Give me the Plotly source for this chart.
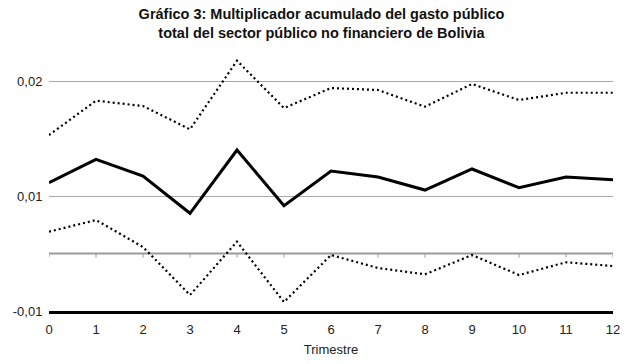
import plotly.graph_objects as go

trimestres = list(range(13))
multiplicador = [0.01116, 0.01319, 0.01174, 0.00850, 0.01400, 0.00916, 0.01217,
                 0.01165, 0.01052, 0.01235, 0.01072, 0.01165, 0.01142]
banda_superior = [0.01530, 0.01829, 0.01783, 0.01580, 0.02177, 0.01765, 0.01939,
                  0.01922, 0.01777, 0.01974, 0.01835, 0.01898, 0.01898]
banda_inferior = [0.00690, 0.00791, 0.00557, 0.00139, 0.00603, 0.00078, 0.00487,
                  0.00374, 0.00319, 0.00487, 0.00313, 0.00424, 0.00391]

y_tickvals = [0.02, 0.01, 0.0]
y_ticktext = ["0,02", "0,01", "-0,01"]
eje_cero = 0.005

fig = go.Figure()
fig.add_trace(go.Scatter(x=trimestres, y=banda_superior, mode="lines",
                         line=dict(color="black", width=2.2, dash="2px,3px"),
                         showlegend=False))
fig.add_trace(go.Scatter(x=trimestres, y=banda_inferior, mode="lines",
                         line=dict(color="black", width=2.2, dash="2px,3px"),
                         showlegend=False))
fig.add_trace(go.Scatter(x=trimestres, y=multiplicador, mode="lines",
                         line=dict(color="black", width=3),
                         showlegend=False))

shapes = [dict(type="line", xref="paper", x0=0, x1=1, yref="y", y0=eje_cero, y1=eje_cero,
               line=dict(color="#9a9a9a", width=2), layer="below")]
for t in trimestres:
    shapes.append(dict(type="line", xref="x", x0=t, x1=t, yref="y",
                       y0=eje_cero, y1=eje_cero - 0.00035,
                       line=dict(color="#9a9a9a", width=1), layer="below"))

fig.update_layout(
    width=627, height=356,
    margin=dict(l=41, r=22, t=42, b=53, autoexpand=False),
    paper_bgcolor="white", plot_bgcolor="white",
    font=dict(family="Liberation Sans, Arial, sans-serif", color="#222"),
    title=dict(text="<b>Gráfico 3: Multiplicador acumulado del gasto público<br>total del sector público no financiero de Bolivia</b>",
               x=0.5, xanchor="center", y=0.968, yanchor="top",
               font=dict(size=14.5, color="#111")),
    shapes=shapes,
    xaxis=dict(range=[0, 12], tickvals=trimestres, ticktext=[str(t) for t in trimestres],
               showgrid=False, zeroline=False, showline=True, linecolor="black",
               linewidth=2.5, ticks="outside", ticklen=5, tickcolor="rgba(0,0,0,0)",
               tickfont=dict(size=13), automargin=False,
               title=dict(text="Trimestre", font=dict(size=13), standoff=9)),
    yaxis=dict(range=[0, 0.0227], tickvals=y_tickvals, ticktext=y_ticktext,
               showgrid=True, gridcolor="#a8a8a8", gridwidth=1, zeroline=False,
               showline=False, ticks="outside", ticklen=3, tickcolor="rgba(0,0,0,0)",
               tickfont=dict(size=13), automargin=False),
)

fig.write_html("out.html")
